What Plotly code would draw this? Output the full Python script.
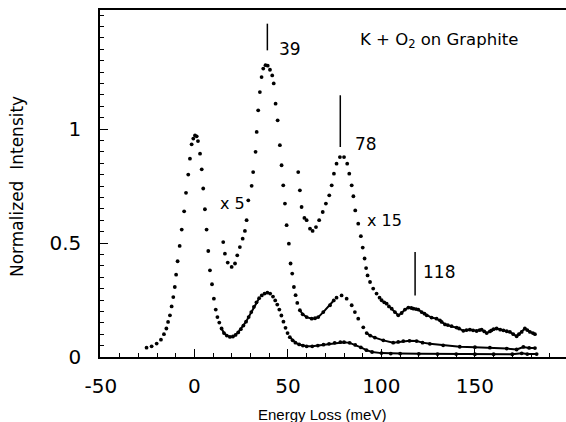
import plotly.graph_objects as go

# ---------------- data ----------------
# Curve x1 (raw spectrum, elastic peak normalised to ~1)
a_x = [-25.6, -22.9, -20.2, -17.9, -16.3, -15.0, -14.1, -13.1, -12.2, -11.3, -10.5, -9.8, -9.0, -7.9,
       -6.8, -5.5, -4.5, -3.3, -2.4, -1.5, -0.6, 0.3, 1.2, 1.9, 3.0, 3.9, 4.7, 5.6, 6.5, 7.4, 8.3, 9.4,
       10.4, 11.4, 12.3, 13.3, 14.5, 15.8, 17.3, 19.0, 20.6, 22.0, 23.4, 24.8, 26.2, 27.6, 29.0, 30.4,
       31.8, 33.2, 34.6, 36.0, 37.5, 39.0, 40.5, 42.0, 43.2, 44.3, 45.4, 46.5, 47.6, 48.7, 49.8, 51.0,
       52.5, 54.0, 56.0, 58.0, 60.0, 63.0, 66.0, 69.0, 72.0, 75.0, 78.0, 80.0, 83.0, 86.0, 89.0, 92.0,
       95.0, 100.0, 105.0, 110.0, 120.0, 130.0, 140.0, 150.0, 160.0, 170.0, 175.0, 178.0, 183.0]
a_y = [0.041, 0.047, 0.059, 0.076, 0.100, 0.125, 0.154, 0.183, 0.222, 0.263, 0.307, 0.361, 0.420, 0.487,
       0.559, 0.639, 0.720, 0.800, 0.870, 0.933, 0.958, 0.972, 0.968, 0.947, 0.892, 0.823, 0.739, 0.648,
       0.559, 0.465, 0.380, 0.319, 0.256, 0.208, 0.175, 0.151, 0.125, 0.105, 0.094, 0.088, 0.090, 0.097,
       0.108, 0.122, 0.138, 0.155, 0.175, 0.197, 0.220, 0.240, 0.258, 0.270, 0.278, 0.282, 0.278, 0.265,
       0.248, 0.230, 0.208, 0.182, 0.155, 0.128, 0.105, 0.087, 0.073, 0.063, 0.055, 0.050, 0.047, 0.047,
       0.050, 0.054, 0.058, 0.062, 0.065, 0.065, 0.062, 0.053, 0.042, 0.030, 0.022, 0.017, 0.015, 0.015,
       0.014, 0.013, 0.013, 0.012, 0.012, 0.012, 0.016, 0.013, 0.013]

# Curve x5
b_x = [15.4, 16.3, 17.8, 19.9, 21.7, 22.9, 24.3, 25.8, 27.0, 27.9, 28.8, 30.6, 31.4, 32.7, 33.3, 34.1,
       35.0, 35.9, 36.8, 38.0, 39.2, 40.4, 41.6, 42.4, 43.4, 44.5, 45.7, 46.6, 47.5, 48.4, 49.3, 50.5,
       51.4, 52.3, 53.2, 54.1, 55.0, 56.4, 57.9, 60.0, 62.7, 64.5, 66.2, 68.9, 72.5, 74.5, 76.0, 78.7,
       81.4, 84.1, 85.8, 87.6, 90.3, 92.1, 94.0, 96.5, 101.0, 106.3, 109.0, 111.7, 115.0, 118.8, 122.0,
       125.9, 133.0, 141.9, 150.0, 158.0, 167.0, 172.3, 175.9, 179.0, 182.1]
b_y = [0.504, 0.453, 0.414, 0.395, 0.410, 0.446, 0.482, 0.519, 0.553, 0.600, 0.687, 0.751, 0.811, 0.900,
       0.987, 1.082, 1.162, 1.228, 1.265, 1.280, 1.278, 1.260, 1.235, 1.200, 1.111, 1.038, 0.929, 0.841,
       0.753, 0.673, 0.578, 0.497, 0.410, 0.366, 0.307, 0.271, 0.237, 0.205, 0.187, 0.175, 0.168, 0.170,
       0.175, 0.197, 0.227, 0.248, 0.260, 0.270, 0.256, 0.227, 0.197, 0.168, 0.130, 0.105, 0.094, 0.085,
       0.073, 0.063, 0.066, 0.070, 0.071, 0.070, 0.063, 0.058, 0.051, 0.045, 0.043, 0.041, 0.037, 0.033,
       0.044, 0.040, 0.039]

# Curve x15
c_x = [55.5, 56.4, 57.3, 58.8, 60.0, 61.8, 63.2, 65.0, 66.7, 68.6, 70.3, 72.1, 73.4, 74.6, 76.0, 77.8,
       80.0, 81.7, 82.8, 84.1, 85.0, 86.0, 87.6, 89.0, 90.0, 91.0, 91.8, 92.6, 93.9, 95.6, 97.4, 99.0,
       100.1, 101.5, 102.8, 104.0, 105.5, 107.2, 109.0, 110.8, 112.6, 114.4, 116.0, 117.1, 118.5, 119.7,
       121.5, 123.0, 124.2, 126.8, 129.5, 131.3, 132.2, 134.0, 135.5, 137.5, 140.2, 141.5, 143.8, 145.5,
       147.3, 149.0, 150.9, 152.5, 153.6, 155.0, 156.3, 158.0, 158.9, 160.0, 161.6, 163.5, 165.2, 167.0,
       168.7, 170.5, 172.3, 173.5, 175.0, 176.7, 178.0, 179.4, 181.0, 182.1]
c_y = [0.811, 0.731, 0.658, 0.610, 0.600, 0.563, 0.553, 0.570, 0.600, 0.636, 0.673, 0.709, 0.753, 0.804,
       0.848, 0.877, 0.877, 0.848, 0.804, 0.753, 0.705, 0.643, 0.585, 0.530, 0.480, 0.432, 0.390, 0.358,
       0.329, 0.300, 0.278, 0.260, 0.249, 0.240, 0.234, 0.222, 0.212, 0.197, 0.183, 0.193, 0.208, 0.217,
       0.215, 0.212, 0.210, 0.208, 0.197, 0.190, 0.183, 0.173, 0.168, 0.161, 0.154, 0.143, 0.140, 0.135,
       0.129, 0.125, 0.115, 0.118, 0.120, 0.117, 0.114, 0.118, 0.120, 0.112, 0.105, 0.112, 0.117, 0.122,
       0.125, 0.120, 0.117, 0.113, 0.110, 0.100, 0.091, 0.100, 0.110, 0.125, 0.118, 0.110, 0.105, 0.100]

x_tick_vals = [-50, 0, 50, 100, 150]
x_tick_text = ["-50", "0", "50", "100", "150"]
y_tick_vals = [0, 0.5, 1]
y_tick_text = ["0", "0.5", "1"]

peak_energies = [39, 78, 118]
peak_labels = ["39", "78", "118"]

# ---------------- figure ----------------
BLACK = "#000000"
SANS = "DejaVu Sans, sans-serif"
LABEL_FONT = dict(family=SANS, size=16, color=BLACK)


def solid_part(xs, ys, ranges):
    out = []
    for x, y in zip(xs, ys):
        out.append(y if any(lo <= x <= hi for lo, hi in ranges) else None)
    return out


fig = go.Figure()
curves = [
    (a_x, a_y, [(14, 35), (50, 190)]),
    (b_x, b_y, [(56, 75), (91, 190)]),
    (c_x, c_y, [(103, 190)]),
]
for xs, ys, solid in curves:
    fig.add_trace(go.Scatter(x=xs, y=ys, mode="markers",
                             marker=dict(size=3.8, color=BLACK),
                             showlegend=False, hoverinfo="skip"))
    fig.add_trace(go.Scatter(x=xs, y=solid_part(xs, ys, solid), mode="lines",
                             line=dict(color=BLACK, width=2), connectgaps=False,
                             showlegend=False, hoverinfo="skip"))

# peak marker lines and labels
line_spans = [(1.345, 1.462), (0.921, 1.148), (0.27, 0.46)]
label_pos = [(51.1, 1.352), (92.0, 0.936), (130.7, 0.374)]
for e, lab, (y0, y1), (lx, ly) in zip(peak_energies, peak_labels, line_spans, label_pos):
    fig.add_shape(type="line", xref="x", yref="y", x0=e, x1=e, y0=y0, y1=y1,
                  line=dict(color=BLACK, width=1.5))
    fig.add_annotation(x=lx, y=ly, xref="x", yref="y", text=lab, showarrow=False,
                       font=dict(family=SANS, size=17, color=BLACK),
                       xanchor="center", yanchor="middle")

fig.add_annotation(x=20.3, y=0.672, xref="x", yref="y", text="x 5", showarrow=False,
                   font=LABEL_FONT, xanchor="center", yanchor="middle")
fig.add_annotation(x=101.9, y=0.597, xref="x", yref="y", text="x 15", showarrow=False,
                   font=LABEL_FONT, xanchor="center", yanchor="middle")
fig.add_annotation(x=130.7, y=1.39, xref="x", yref="y",
                   text="K + O<sub>2</sub> on Graphite", showarrow=False,
                   font=dict(family=SANS, size=16.5, color=BLACK),
                   xanchor="center", yanchor="middle")

# axis titles
fig.add_annotation(x=68.4, y=-0.167, xref="x", yref="paper", text="Energy Loss (meV)",
                   showarrow=False, xanchor="center", yanchor="middle",
                   font=dict(family="Liberation Sans, Arial, sans-serif", size=15, color=BLACK))
fig.add_annotation(x=-0.178, y=0.49, xref="paper", yref="paper", text="Normalized  Intensity",
                   showarrow=False, textangle=-90, xanchor="center", yanchor="middle",
                   font=dict(family=SANS, size=17, color=BLACK))

fig.update_layout(
    width=566, height=422,
    margin=dict(l=100, r=0, t=10, b=65),
    paper_bgcolor="white", plot_bgcolor="white",
    showlegend=False,
)
fig.update_xaxes(
    range=[-50.5, 198.7], showgrid=False, zeroline=False,
    showline=True, linecolor=BLACK, linewidth=2, mirror=True,
    ticks="inside", ticklen=8, tickwidth=1.2, tickcolor=BLACK,
    tickvals=x_tick_vals, ticktext=x_tick_text,
    tickfont=dict(family=SANS, size=20, color=BLACK),
    ticklabelstandoff=10,
    minor=dict(dtick=10, ticks="inside", ticklen=4, tickwidth=1, tickcolor=BLACK, showgrid=False),
)
fig.update_yaxes(
    range=[0, 1.522], showgrid=False, zeroline=False,
    showline=True, linecolor=BLACK, linewidth=1.5, mirror=False,
    ticks="inside", ticklen=8, tickwidth=1.2, tickcolor=BLACK,
    tickvals=y_tick_vals, ticktext=y_tick_text,
    tickfont=dict(family=SANS, size=20, color=BLACK),
    ticklabelstandoff=13,
    minor=dict(dtick=0.05, ticks="inside", ticklen=4, tickwidth=1, tickcolor=BLACK, showgrid=False),
)

fig.write_html("out.html", config=dict(displayModeBar=False),
               post_script="document.body.style.margin='0px';")
